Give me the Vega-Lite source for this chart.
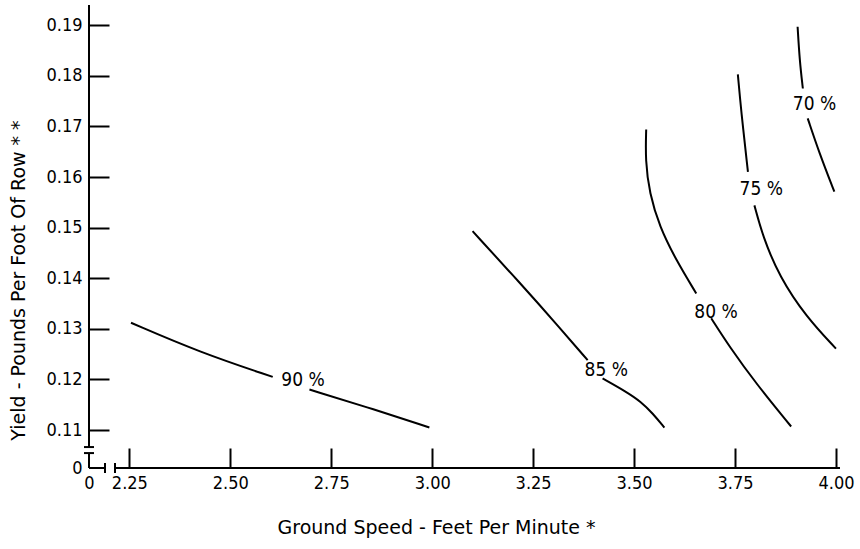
{
  "$schema": "https://vega.github.io/schema/vega-lite/v6.json",
  "width": 751,
  "height": 463,
  "autosize": {"type": "none"},
  "padding": {"left": 89, "top": 5, "right": 20, "bottom": 81},
  "background": "white",
  "config": {"view": {"stroke": null}},
  "datasets": {
    "contours": [
      {"line": "90a", "i": 0, "speed": 2.254, "yield": 0.1312},
      {"line": "90a", "i": 1, "speed": 2.423, "yield": 0.1254},
      {"line": "90a", "i": 2, "speed": 2.605, "yield": 0.1205},
      {"line": "90b", "i": 0, "speed": 2.696, "yield": 0.1180},
      {"line": "90b", "i": 1, "speed": 2.836, "yield": 0.1146},
      {"line": "90b", "i": 2, "speed": 2.993, "yield": 0.1105},
      {"line": "85a", "i": 0, "speed": 3.100, "yield": 0.1493},
      {"line": "85a", "i": 1, "speed": 3.216, "yield": 0.1392},
      {"line": "85a", "i": 2, "speed": 3.315, "yield": 0.1303},
      {"line": "85a", "i": 3, "speed": 3.385, "yield": 0.1238},
      {"line": "85b", "i": 0, "speed": 3.422, "yield": 0.1202},
      {"line": "85b", "i": 1, "speed": 3.480, "yield": 0.1176},
      {"line": "85b", "i": 2, "speed": 3.517, "yield": 0.1156},
      {"line": "85b", "i": 3, "speed": 3.546, "yield": 0.1133},
      {"line": "85b", "i": 4, "speed": 3.575, "yield": 0.1105},
      {"line": "80a", "i": 0, "speed": 3.530, "yield": 0.1694},
      {"line": "80a", "i": 1, "speed": 3.528, "yield": 0.1633},
      {"line": "80a", "i": 2, "speed": 3.538, "yield": 0.1568},
      {"line": "80a", "i": 3, "speed": 3.563, "yield": 0.1502},
      {"line": "80a", "i": 4, "speed": 3.604, "yield": 0.1436},
      {"line": "80a", "i": 5, "speed": 3.654, "yield": 0.1370},
      {"line": "80b", "i": 0, "speed": 3.691, "yield": 0.1321},
      {"line": "80b", "i": 1, "speed": 3.736, "yield": 0.1265},
      {"line": "80b", "i": 2, "speed": 3.802, "yield": 0.1192},
      {"line": "80b", "i": 3, "speed": 3.889, "yield": 0.1107},
      {"line": "75a", "i": 0, "speed": 3.757, "yield": 0.1803},
      {"line": "75a", "i": 1, "speed": 3.765, "yield": 0.1732},
      {"line": "75a", "i": 2, "speed": 3.782, "yield": 0.1610},
      {"line": "75b", "i": 0, "speed": 3.798, "yield": 0.1544},
      {"line": "75b", "i": 1, "speed": 3.819, "yield": 0.1482},
      {"line": "75b", "i": 2, "speed": 3.860, "yield": 0.1403},
      {"line": "75b", "i": 3, "speed": 3.926, "yield": 0.1324},
      {"line": "75b", "i": 4, "speed": 4.000, "yield": 0.1261},
      {"line": "70a", "i": 0, "speed": 3.905, "yield": 0.1897},
      {"line": "70a", "i": 1, "speed": 3.910, "yield": 0.1831},
      {"line": "70a", "i": 2, "speed": 3.918, "yield": 0.1775},
      {"line": "70b", "i": 0, "speed": 3.930, "yield": 0.1716},
      {"line": "70b", "i": 1, "speed": 3.959, "yield": 0.1647},
      {"line": "70b", "i": 2, "speed": 3.996, "yield": 0.1571}
    ],
    "labels": [
      {"label": "90 %", "speed": 2.680, "yield": 0.1198},
      {"label": "85 %", "speed": 3.431, "yield": 0.1219},
      {"label": "80 %", "speed": 3.703, "yield": 0.1334},
      {"label": "75 %", "speed": 3.815, "yield": 0.1577},
      {"label": "70 %", "speed": 3.947, "yield": 0.1745}
    ]
  },
  "layer": [
    {
      "data": {"name": "contours"},
      "mark": {"type": "line", "color": "black", "strokeWidth": 2, "interpolate": "basis"},
      "encoding": {
        "x": {
          "field": "speed", "type": "quantitative",
          "scale": {"domain": [2.15, 4.01], "nice": false, "zero": false},
          "axis": {
            "values": [2.15, 2.25, 2.5, 2.75, 3.0, 3.25, 3.5, 3.75, 4.0],
            "labelExpr": "datum.value < 2.2 ? '0' : format(datum.value, '.2f')",
            "domain": false, "grid": false,
            "tickSize": -20, "tickWidth": 2, "tickColor": "black",
            "tickOpacity": {"condition": {"test": "datum.value < 2.2", "value": 0}, "value": 1},
            "labelPadding": 26, "labelFlush": false, "labelOverlap": false,
            "labelFont": "DejaVu Sans Condensed", "labelFontSize": 18, "labelColor": "black",
            "title": "Ground Speed - Feet Per Minute *",
            "titleFont": "DejaVu Sans", "titleFontSize": 19, "titleFontWeight": "normal", "titleColor": "black",
            "titleX": 347, "titleY": 59, "titleBaseline": "middle", "titleAnchor": "middle"
          }
        },
        "y": {
          "field": "yield", "type": "quantitative",
          "scale": {"domain": [0.1025, 0.194], "nice": false, "zero": false},
          "axis": {
            "values": [0.1025, 0.11, 0.12, 0.13, 0.14, 0.15, 0.16, 0.17, 0.18, 0.19],
            "labelExpr": "datum.value < 0.105 ? '0' : format(datum.value, '.2f')",
            "domain": false, "grid": false,
            "tickSize": -20, "tickWidth": 2, "tickColor": "black",
            "tickOpacity": {"condition": {"test": "datum.value < 0.105", "value": 0}, "value": 1},
            "labelPadding": 27, "labelFlush": false, "labelOverlap": false,
            "labelFont": "DejaVu Sans Condensed", "labelFontSize": 18, "labelColor": "black",
            "title": "Yield - Pounds Per Foot Of Row * *",
            "titleFont": "DejaVu Sans", "titleFontSize": 19, "titleFontWeight": "normal", "titleColor": "black",
            "titleX": -71, "titleY": 275, "titleBaseline": "middle", "titleAnchor": "middle", "titleAngle": -90
          }
        },
        "detail": {"field": "line"},
        "order": {"field": "i", "type": "quantitative"}
      }
    },
    {
      "data": {"name": "labels"},
      "mark": {"type": "text", "font": "DejaVu Sans Condensed", "fontSize": 19, "color": "black", "align": "center", "baseline": "middle"},
      "encoding": {
        "x": {"field": "speed", "type": "quantitative"},
        "y": {"field": "yield", "type": "quantitative"},
        "text": {"field": "label"}
      }
    },
    {
      "data": {"values": [{}]},
      "mark": {"type": "rule", "color": "black", "strokeWidth": 2},
      "encoding": {"x": {"datum": 2.15}, "y": {"datum": 0.10664}, "y2": {"datum": 0.194}}
    },
    {
      "data": {"values": [{}]},
      "mark": {"type": "rule", "color": "black", "strokeWidth": 2},
      "encoding": {"x": {"datum": 2.1376}, "x2": {"datum": 2.1624}, "y": {"datum": 0.10664}}
    },
    {
      "data": {"values": [{}]},
      "mark": {"type": "rule", "color": "black", "strokeWidth": 2},
      "encoding": {"x": {"datum": 2.1376}, "x2": {"datum": 2.1624}, "y": {"datum": 0.10545}}
    },
    {
      "data": {"values": [{}]},
      "mark": {"type": "rule", "color": "black", "strokeWidth": 2},
      "encoding": {"x": {"datum": 2.15}, "y": {"datum": 0.1025}, "y2": {"datum": 0.10545}}
    },
    {
      "data": {"values": [{}]},
      "mark": {"type": "rule", "color": "black", "strokeWidth": 2},
      "encoding": {"x": {"datum": 2.15}, "x2": {"datum": 2.1896}, "y": {"datum": 0.1025}}
    },
    {
      "data": {"values": [{}]},
      "mark": {"type": "rule", "color": "black", "strokeWidth": 2},
      "encoding": {"x": {"datum": 2.1896}, "y": {"datum": 0.10151}, "y2": {"datum": 0.10349}}
    },
    {
      "data": {"values": [{}]},
      "mark": {"type": "rule", "color": "black", "strokeWidth": 2},
      "encoding": {"x": {"datum": 2.2144}, "y": {"datum": 0.10151}, "y2": {"datum": 0.10349}}
    },
    {
      "data": {"values": [{}]},
      "mark": {"type": "rule", "color": "black", "strokeWidth": 2},
      "encoding": {"x": {"datum": 2.2144}, "x2": {"datum": 4.01}, "y": {"datum": 0.1025}}
    }
  ]
}
